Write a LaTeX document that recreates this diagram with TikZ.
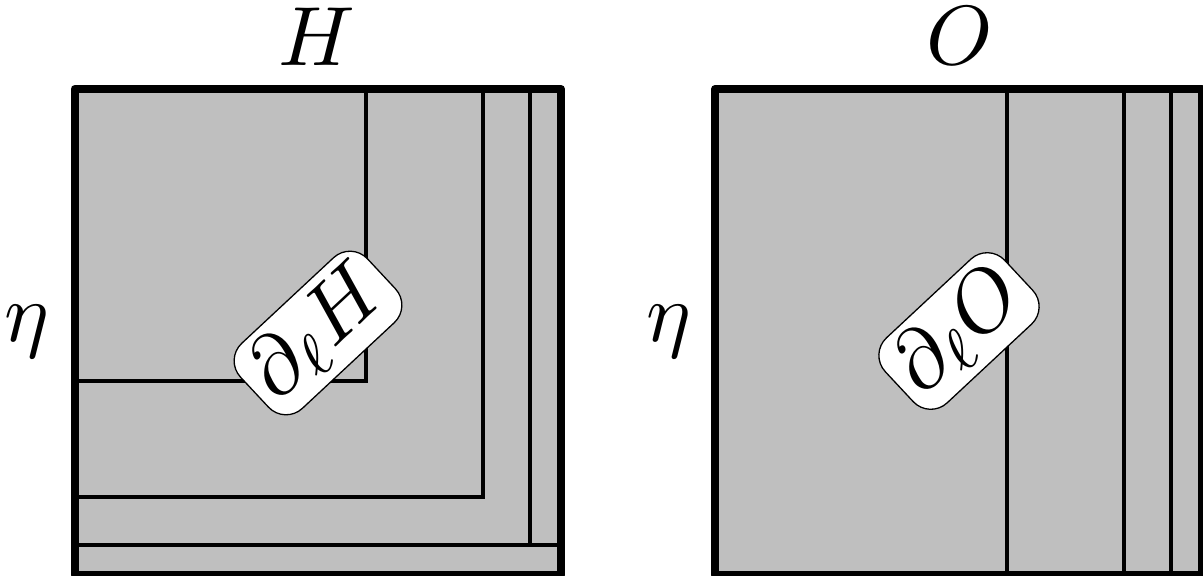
\documentclass[tikz,border=0pt]{standalone}
\usepackage{graphicx}
\newcommand{\hugemath}[1]{\scalebox{8.4}{$#1$}}
\tikzset{
  panel/.style={fill=lightgray},
  divider/.style={draw=black, line width=3.2pt},
  frame/.style={draw=black, line width=8pt, line join=round},
  bigtext/.style={inner sep=0pt},
  tagbox/.style={draw=black, fill=white, line width=1.3pt, rounded corners=24pt,
    inner xsep=10pt, inner ysep=9pt},
}
\begin{document}
\begin{tikzpicture}[x=1pt,y=-1pt]
\useasboundingbox (0,0) rectangle (1203,576);
\clip (0,0) rectangle (1203,576);
% left panel
\coordinate (Ltl) at (74.5,89);
\coordinate (Lbr) at (561,575);
\fill[panel] (Ltl) rectangle (Lbr);
\draw[divider] (366,89) -- (366,381) -- (74.5,381);
\draw[divider] (483,89) -- (483,497) -- (74.5,497);
\draw[divider] (530,89) -- (530,545) -- (561,545) (530,545) -- (74.5,545);
\draw[frame] (Ltl) rectangle (Lbr);
% right panel
\coordinate (Rtl) at (715,89);
\coordinate (Rbr) at (1202,575);
\fill[panel] (Rtl) rectangle (Rbr);
\draw[divider] (1007,89) -- (1007,575);
\draw[divider] (1124,89) -- (1124,575);
\draw[divider] (1171,89) -- (1171,575);
\draw[frame] (Rtl) rectangle (Rbr);
% labels
\node[bigtext] (H) at (317,37) {\hugemath{H}};
\node[bigtext] (O) at (960,36) {\hugemath{O}};
\node[bigtext] (etaL) at (27,332) {\hugemath{\eta}};
\node[bigtext] (etaR) at (669,332) {\hugemath{\eta}};
\node[tagbox, rotate=43] (dH) at (318,333) {\hugemath{\partial_\ell H}};
\node[tagbox, rotate=43] (dO) at (959,331) {\hugemath{\partial_\ell O}};
\end{tikzpicture}
\end{document}
